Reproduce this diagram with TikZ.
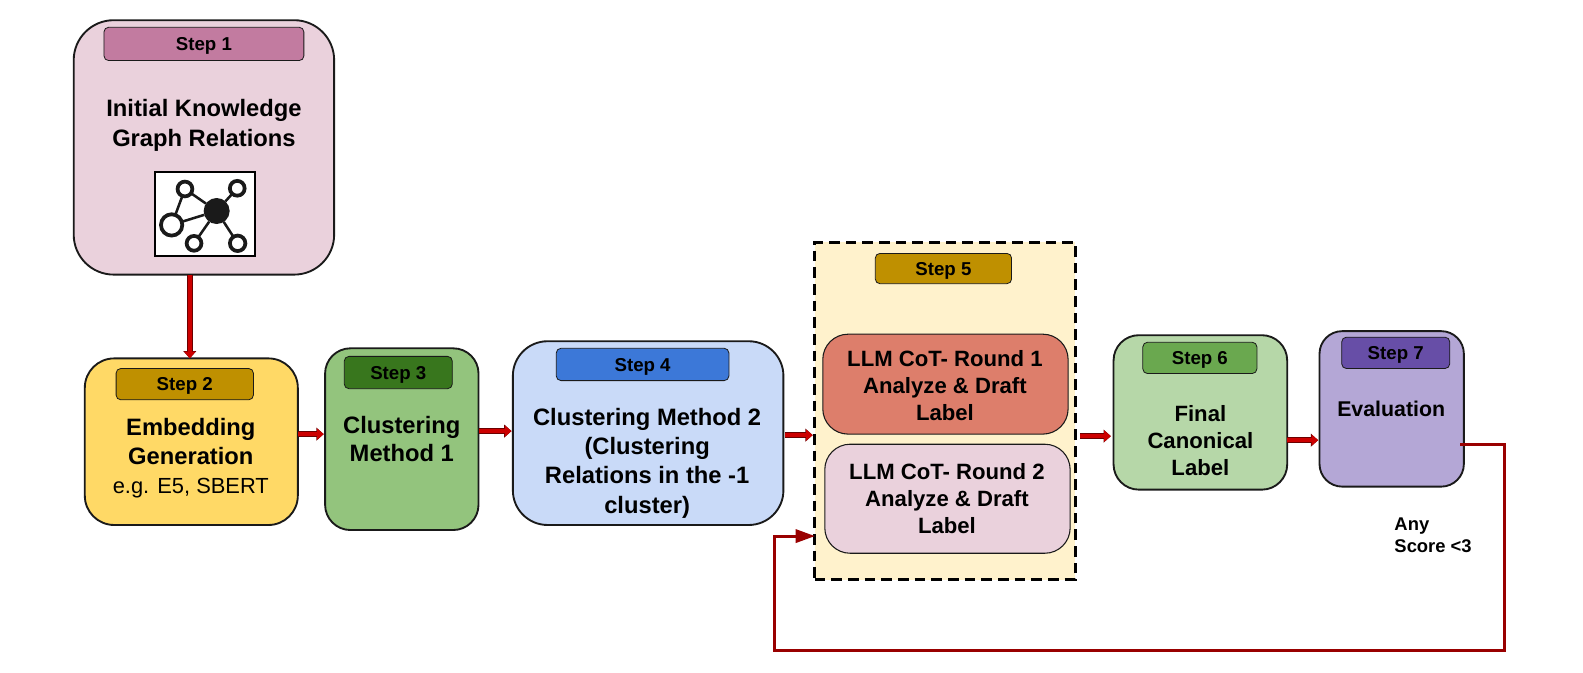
\documentclass[tikz,border=0pt]{standalone}
\usepackage{fontspec}
\setmainfont{Liberation Sans}
\usetikzlibrary{arrows.meta}
\definecolor{cBadgeA}{HTML}{C27BA0}
\definecolor{cPink}{HTML}{EAD1DC}
\definecolor{cYellow}{HTML}{FFD966}
\definecolor{cGold}{HTML}{BF9000}
\definecolor{cGreen}{HTML}{93C47D}
\definecolor{cDGreen}{HTML}{38761D}
\definecolor{cBlue}{HTML}{C9DAF8}
\definecolor{cDBlue}{HTML}{3C78D8}
\definecolor{cCream}{HTML}{FFF2CC}
\definecolor{cSalmon}{HTML}{DD7E6B}
\definecolor{cLGreen}{HTML}{B6D7A8}
\definecolor{cMGreen}{HTML}{6AA84F}
\definecolor{cLav}{HTML}{B4A7D6}
\definecolor{cPurple}{HTML}{674EA7}
\definecolor{cRed}{HTML}{CC0000}
\definecolor{cDRed}{HTML}{990000}
\definecolor{cInk}{HTML}{1A1A1A}
\newcommand{\pxbox}[7]{\node[#6, minimum width={(#4-#2)*0.7572pt}, minimum height={(#5-#3)*0.7572pt}] (#1) at ({(#2+#4)/2},{(#3+#5)/2}) {#7};}
\tikzset{
  x=0.7572pt, y=-0.7572pt,
  stage/.style={draw=cInk, line width=1.4pt, rounded corners=#1, inner sep=0pt, outer sep=0pt},
  badge/.style={draw=cInk, line width=0.6pt, rounded corners=3.5pt, inner sep=0pt, outer sep=0pt,
     font=\fontsize{14}{16}\selectfont\bfseries, text=black, text height=10pt, text depth=0pt},
  title/.style={align=center, inner sep=0pt, font=\fontsize{17.8}{21.5}\selectfont\bfseries},
  subtitle/.style={align=center, inner sep=0pt, font=\fontsize{16.6}{20.3}\selectfont\bfseries},
  blockarrow/.style={cRed, line width=3.2pt, -{Triangle[length=5pt,width=8pt,fill=cRed]},
     preaction={draw=cDRed!70!black, line width=4.2pt, -{Triangle[length=5.5pt,width=9.5pt]}}},
  feedback/.style={cDRed, line width=2.3pt},
  ring/.style={circle, draw=cInk, line width=2.8pt, fill=white, inner sep=0pt, outer sep=0pt, minimum size=#1},
  hub/.style={circle, fill=cInk, inner sep=0pt, outer sep=0pt, minimum size=19.5pt},
  spoke/.style={cInk, line width=1.9pt},
}
\begin{document}
\begin{tikzpicture}
\useasboundingbox (0,0) rectangle (1568,665.7);
% step 1
\pxbox{s1}{73}{20}{331}{272}{stage=30pt, fill=cPink}{}
\pxbox{b1}{103}{27}{301}{60}{badge, fill=cBadgeA}{Step 1}
\node[title, font=\fontsize{17.8}{22.2}\selectfont\bfseries] (t1) at (202,124) {Initial Knowledge\\Graph Relations};
\pxbox{icon}{153.5}{170.4}{252.5}{253.6}{draw=black, line width=1.2pt, fill=white, inner sep=0pt}{}
\node[hub] (ih) at (214.6,209) {};
\node[ring=11.1pt] (ia) at (183.2,187.2) {};
\node[ring=11.1pt] (ib) at (235,186.5) {};
\node[ring=16pt] (ic) at (170,222.8) {};
\node[ring=11.1pt] (id) at (192.2,241) {};
\node[ring=11.6pt] (ie) at (235.4,241) {};
\draw[spoke] (ia) -- (ih);
\draw[spoke] (ib) -- (ih);
\draw[spoke] (ic) -- (ih);
\draw[spoke] (id) -- (ih);
\draw[spoke] (ie) -- (ih);
\draw[spoke] (ia) -- (ic);
% step 2
\pxbox{s2}{84}{355}{295}{520}{stage=22pt, fill=cYellow}{}
\pxbox{b2}{115}{365}{251}{396}{badge, fill=cGold}{Step 2}
\node[title] (t2) at (189,437.5) {Embedding\\Generation};
\node[inner sep=0pt, font=\fontsize{16.4}{20}\selectfont] (t2b) at (189,483.5) {e.g. E5, SBERT};
% step 3
\pxbox{s3}{322}{345}{474}{525}{stage=19pt, fill=cGreen}{}
\pxbox{b3}{341}{353}{448}{385}{badge, fill=cDGreen}{Step 3}
\node[title] (t3) at (398,435) {Clustering\\Method 1};
% step 4
\pxbox{s4}{508}{338}{776}{520}{stage=26pt, fill=cBlue}{}
\pxbox{b4}{551}{345}{722}{377}{badge, fill=cDBlue}{Step 4}
\node[subtitle, font=\fontsize{17.8}{22}\selectfont\bfseries] (t4) at (641,458.5) {Clustering Method 2\\(Clustering\\Relations in the -1\\cluster)};
% step 5
\pxbox{s5}{807}{240}{1065}{574}{fill=cCream, draw=black, line width=2.5pt, dash pattern=on 8pt off 4.5pt, inner sep=0pt, outer sep=0pt}{}
\pxbox{b5}{867}{251}{1002}{281}{badge, fill=cGold}{Step 5}
\pxbox{r1}{815}{331}{1058}{430}{stage=19pt, line width=0.8pt, fill=cSalmon}{}
\node[subtitle] (t5a) at (936,381.5) {LLM CoT- Round 1\\Analyze \& Draft\\Label};
\pxbox{r2}{817}{440}{1060}{548}{stage=19pt, line width=0.8pt, fill=cPink}{}
\node[subtitle] (t5b) at (938,493.5) {LLM CoT- Round 2\\Analyze \& Draft\\Label};
% step 6
\pxbox{s6}{1103}{332}{1275}{485}{stage=19pt, fill=cLGreen}{}
\pxbox{b6}{1132}{339}{1245}{370}{badge, fill=cMGreen}{Step 6}
\node[subtitle] (t6) at (1189,436.5) {Final\\Canonical\\Label};
% step 7
\pxbox{s7}{1307}{328}{1450}{482}{stage=17pt, fill=cLav}{}
\pxbox{b7}{1329}{334}{1436}{365}{badge, fill=cPurple}{Step 7}
\node[subtitle, font=\fontsize{16}{20}\selectfont\bfseries] (t7) at (1378,405) {Evaluation};
\node[align=left, inner sep=0pt, font=\fontsize{13.8}{16.5}\selectfont\bfseries, anchor=west] (any) at (1381,530) {Any\\Score <3};
% connectors
\draw[blockarrow] (s1.south -| 188,0) -- (s2.north -| 188,0);
\draw[blockarrow] (s2.east |- 0,430) -- ([xshift=-1pt]s3.west |- 0,430);
\draw[blockarrow] (s3.east |- 0,427) -- ([xshift=-1pt]s4.west |- 0,427);
\draw[blockarrow] ([xshift=1.5pt]s4.east |- 0,431) -- ([xshift=-1.5pt]s5.west |- 0,431);
\draw[blockarrow] ([xshift=3.5pt]s5.east |- 0,432) -- ([xshift=-2pt]s6.west |- 0,432);
\draw[blockarrow] (s6.east |- 0,436) -- ([xshift=-1pt]s7.west |- 0,436);
\coordinate (fbA) at (1490,440);
\coordinate (fbB) at (1490,644);
\coordinate (fbC) at (767,644);
\coordinate (fbD) at (767,531);
\draw[feedback, line cap=rect] ([xshift=-2pt]s7.east |- fbA) -- (fbA) -- (fbB) -- (fbC) -- (fbD) -- ([xshift=-12pt]s5.west |- fbD);
\path[fill=cDRed] (s5.west |- fbD) -- ++(-19,-7) -- ++(0,14) -- cycle;
\end{tikzpicture}
\end{document}
